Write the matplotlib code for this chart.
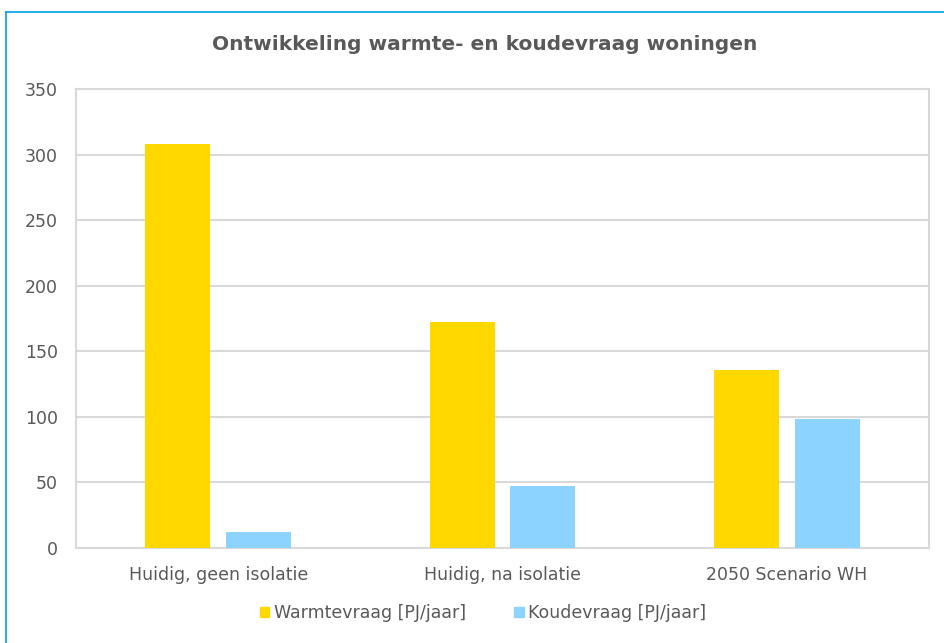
import matplotlib
matplotlib.use("Agg")
import matplotlib.pyplot as plt
import numpy as np
from matplotlib.lines import Line2D
from matplotlib.patches import Patch

categories = ["Huidig, geen isolatie", "Huidig, na isolatie", "2050 Scenario WH"]
warmte = [308, 172, 136]
koude = [12, 47, 98]
series_names = ["Warmtevraag [PJ/jaar]", "Koudevraag [PJ/jaar]"]
yticks = [0, 50, 100, 150, 200, 250, 300, 350]

plt.rcParams['font.family'] = ['DejaVu Sans']
text_color = "#595959"
grid_color = "#D9D9D9"
yellow = "#FFD800"
blue = "#8DD3FF"

fig = plt.figure(figsize=(9.44, 6.43), dpi=100)
ax = fig.add_axes([76/944, 1-548/643, (929-76)/944, (548-89)/643])

x = np.arange(len(categories))
w = 0.229
off = 0.142
ax.bar(x - off, warmte, width=w, color=yellow, zorder=3)
ax.bar(x + off, koude, width=w, color=blue, zorder=3)

ax.set_xlim(-0.5, 2.5)
ax.set_ylim(0, 350)
ax.set_yticks(yticks)
ax.set_yticklabels([str(t) for t in yticks])
ax.set_xticks(x)
ax.set_xticklabels(categories)
ax.tick_params(length=0, labelsize=12.5, colors=text_color)
ax.tick_params(axis='x', pad=13)
ax.tick_params(axis='y', pad=13)
ax.yaxis.grid(True, color=grid_color, linewidth=1.5, zorder=0)
for s in ax.spines.values():
    s.set_color(grid_color)
    s.set_linewidth(1.5)

fig.text(485/944, 1-45/643, "Ontwikkeling warmte- en koudevraag woningen",
         ha='center', va='center', fontsize=14.5, color=text_color, fontweight='bold')

handles = [Patch(color=yellow), Patch(color=blue)]
fig.legend(handles, series_names, loc='center', bbox_to_anchor=(483/944, 1-613/643),
           ncol=2, frameon=False, fontsize=12.5, labelcolor=text_color,
           handlelength=0.55, handleheight=0.55, handletextpad=0.25, columnspacing=2.8)

border = "#00A3E0"
fig.add_artist(Line2D([6/944, 1], [1-12/643, 1-12/643], color=border, lw=1.2, transform=fig.transFigure))
fig.add_artist(Line2D([6/944, 6/944], [0, 1-12/643], color=border, lw=1.2, transform=fig.transFigure))

fig.savefig("out.png", dpi=100)
